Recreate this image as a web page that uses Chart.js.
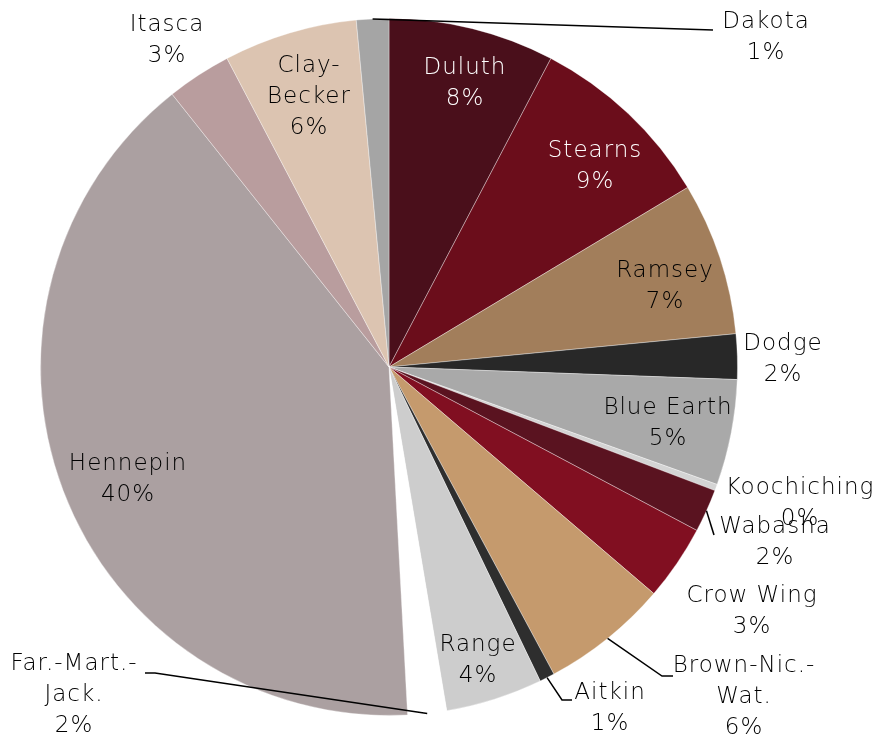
<!DOCTYPE html>
<html>
<head>
<meta charset="utf-8">
<script src="https://cdn.jsdelivr.net/npm/chart.js@4.4.0/dist/chart.umd.min.js"></script>
<style>
  html, body { margin: 0; padding: 0; background: #ffffff; }
  #wrap { width: 893px; height: 742px; }
</style>
</head>
<body>
<div id="wrap"><canvas id="graph" width="893" height="742"></canvas></div>
<script>
// 区分名（時計回り、12時から）
const categories = ['Duluth', 'Stearns', 'Ramsey', 'Dodge', 'Blue Earth', 'Koochiching', 'Wabasha', 'Crow Wing',
    'Brown-Nic.-Wat.', 'Aitkin', 'Range', 'Far.-Mart.-Jack.', 'Hennepin', 'Itasca', 'Clay-Becker', 'Dakota'];
// 割合
const shares = [7.7, 8.7, 7.1, 2.1, 4.9, 0.3, 2.0, 3.5, 5.9, 0.7, 4.5, 1.8, 40.2, 3.0, 6.2, 1.5];
// 表示用パーセント
const pctLabels = ['8%', '9%', '7%', '2%', '5%', '0%', '2%', '3%', '6%', '1%', '4%', '2%', '40%', '3%', '6%', '1%'];

const sliceColors = ['#4a0f1b', '#6b0d1b', '#a27e5b', '#282828', '#a9a9a9', '#d4d4d4', '#5a1320', '#810f21',
    '#c59a6d', '#2e2e2e', '#cdcdcd', '#ffffff', '#aba0a1', '#b99d9e', '#dcc4b1', '#a5a5a5'];

// ラベル配置
const labelLayout = [
    { lines: ['Duluth'], x: 465, y: 68, color: '#ffffff' },
    { lines: ['Stearns'], x: 595, y: 151, color: '#ffffff' },
    { lines: ['Ramsey'], x: 665, y: 271 },
    { lines: ['Dodge'], x: 783, y: 344 },
    { lines: ['Blue Earth'], x: 668, y: 408 },
    { lines: ['Koochiching'], x: 800, y: 488 },
    { lines: ['Wabasha'], x: 775, y: 527, leader: [[714, 535]] },
    { lines: ['Crow Wing'], x: 752, y: 596 },
    { lines: ['Brown-Nic.-', 'Wat.'], x: 744, y: 666, leader: [[662, 676], [673, 676]] },
    { lines: ['Aitkin'], x: 610, y: 693, leader: [[562, 700], [572, 700]] },
    { lines: ['Range'], x: 478, y: 645 },
    { lines: ['Far.-Mart.-', 'Jack.'], x: 74, y: 664, leader: [[155, 673], [145, 673]] },
    { lines: ['Hennepin'], x: 128, y: 464 },
    { lines: ['Itasca'], x: 167, y: 25 },
    { lines: ['Clay-', 'Becker'], x: 309, y: 66 },
    { lines: ['Dakota'], x: 766, y: 22, leader: [[713, 30]] }
];

const FONT = '300 23px "DejaVu Sans"';
const LINE_H = 31;

// ラベル描画プラグイン
const labelPlugin = {
    id: 'sliceLabels',
    afterDatasetsDraw(chart) {
        const ctx = chart.ctx;
        const meta = chart.getDatasetMeta(0);
        ctx.save();
        // 引き出し線
        ctx.strokeStyle = '#000000';
        ctx.lineWidth = 1.5;
        labelLayout.forEach((lab, i) => {
            if (!lab.leader) return;
            const arc = meta.data[i];
            const mid = (arc.startAngle + arc.endAngle) / 2;
            const sx = arc.x + Math.cos(mid) * arc.outerRadius;
            const sy = arc.y + Math.sin(mid) * arc.outerRadius;
            ctx.beginPath();
            ctx.moveTo(sx, sy);
            lab.leader.forEach(p => ctx.lineTo(p[0], p[1]));
            ctx.stroke();
        });
        // 文字
        ctx.font = FONT;
        ctx.letterSpacing = '1px';
        ctx.textAlign = 'center';
        ctx.textBaseline = 'middle';
        labelLayout.forEach((lab, i) => {
            ctx.fillStyle = lab.color || '#000000';
            const rows = lab.lines.concat([pctLabels[i]]);
            rows.forEach((t, k) => ctx.fillText(t, lab.x, lab.y + k * LINE_H));
        });
        ctx.restore();
    }
};

const ctx = document.getElementById('graph');
new Chart(ctx, {
    type: 'pie',
    data: {
        labels: categories,
        datasets: [{
            data: shares,
            backgroundColor: sliceColors,
            borderColor: 'rgba(255,255,255,0.35)',
            borderWidth: 1
        }]
    },
    options: {
        responsive: false,
        animation: false,
        layout: { padding: { left: 40, right: 155, top: 18, bottom: 26 } },
        plugins: {
            legend: { display: false },
            tooltip: { enabled: false }
        }
    },
    plugins: [labelPlugin]
});
</script>
</body>
</html>
